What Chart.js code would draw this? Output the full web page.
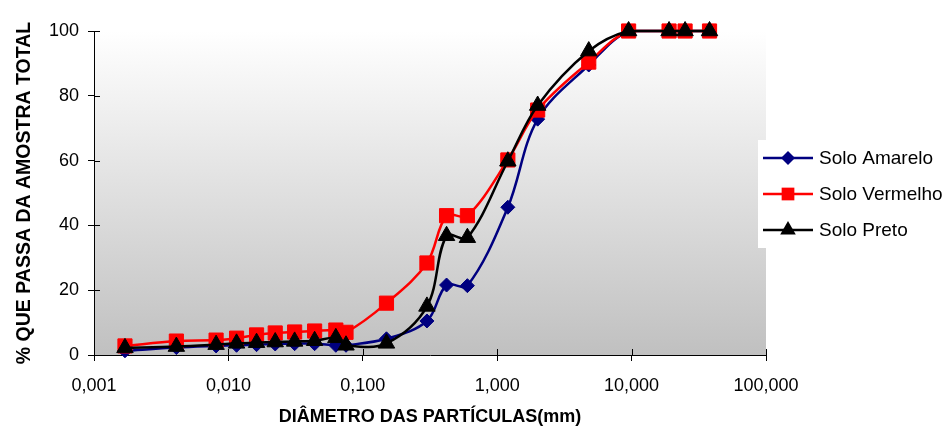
<!DOCTYPE html>
<html>
<head>
<meta charset="utf-8">
<script src="https://cdn.jsdelivr.net/npm/chart.js@4/dist/chart.umd.min.js"></script>
<style>
  body { margin: 0; background: #fff; }
  #box { width: 951px; height: 427px; }
</style>
</head>
<body>
<div id="box"><canvas id="curva"></canvas></div>
<script>
// diametros das particulas (mm)
const diametros = [0.0017, 0.0041, 0.0081, 0.0115, 0.0162, 0.0223, 0.0311, 0.0438, 0.063, 0.075,
                   0.15, 0.3, 0.42, 0.6, 1.2, 2.0, 4.8, 9.5, 19, 25, 38];

// % que passa
const soloAmarelo  = [1.3, 2.3, 2.8, 3.0, 3.2, 3.4, 3.5, 3.5, 3.0, 3.0,
                      5.0, 10.5, 21.6, 21.4, 45.6, 72.8, 89.5, 100, 100, 100, 100];
const soloVermelho = [2.8, 4.3, 4.6, 5.2, 6.2, 6.8, 7.1, 7.4, 7.7, 7.0,
                      16.0, 28.4, 43.0, 43.0, 60.2, 75.6, 90.4, 100, 100, 100, 100];
const soloPreto    = [2.2, 2.6, 3.2, 3.6, 3.8, 4.0, 4.2, 4.4, 5.3, 3.0,
                      3.6, 15.0, 36.8, 36.2, 59.8, 77.0, 93.8, 100, 100, 100, 100];

const xTicks = [0.001, 0.01, 0.1, 1, 10, 100];
const xTickLabels = ["0,001", "0,010", "0,100", "1,000", "10,000", "100,000"];

const FONT = "'Liberation Sans', Arial, sans-serif";

function pontos(vals) {
  return diametros.map(function (d, i) { return { x: d, y: vals[i] }; });
}

function serie(label, vals, cor, estilo, raio, ordem) {
  return {
    label: label,
    data: pontos(vals),
    borderColor: cor,
    backgroundColor: cor,
    borderWidth: 2.5,
    pointStyle: estilo,
    pointRadius: raio,
    pointHoverRadius: raio,
    pointBorderWidth: 1,
    tension: 0.35,
    clip: false,
    order: ordem
  };
}

// fundo em degrade da area de plotagem
const fundo = {
  id: "fundo",
  beforeDraw(chart) {
    const a = chart.chartArea, ctx = chart.ctx;
    const g = ctx.createLinearGradient(0, a.top, 0, a.bottom);
    g.addColorStop(0, "#ffffff");
    g.addColorStop(1, "#c0c0c0");
    ctx.save();
    ctx.fillStyle = g;
    ctx.fillRect(a.left, a.top, a.right - a.left, a.bottom - a.top);
    ctx.restore();
  }
};

// marcas que cruzam os eixos (parte interna)
const marcas = {
  id: "marcas",
  beforeDatasetsDraw(chart) {
    const ctx = chart.ctx, a = chart.chartArea;
    const sx = chart.scales.x, sy = chart.scales.y;
    ctx.save();
    ctx.strokeStyle = "#000";
    ctx.lineWidth = 1;
    ctx.beginPath();
    sx.ticks.forEach(function (t) {
      const px = Math.round(sx.getPixelForValue(t.value)) + 0.5;
      ctx.moveTo(px, a.bottom);
      ctx.lineTo(px, a.bottom - 6);
    });
    sy.ticks.forEach(function (t) {
      const py = Math.round(sy.getPixelForValue(t.value)) + 0.5;
      ctx.moveTo(a.left, py);
      ctx.lineTo(a.left + 6, py);
    });
    ctx.stroke();
    ctx.restore();
  }
};

function marcador(ctx, estilo, x, y, r) {
  ctx.beginPath();
  if (estilo === "rectRot") {
    ctx.moveTo(x, y - r); ctx.lineTo(x + r, y); ctx.lineTo(x, y + r); ctx.lineTo(x - r, y);
  } else if (estilo === "rect") {
    const s = r * Math.SQRT1_2;
    ctx.rect(x - s, y - s, 2 * s, 2 * s);
  } else {
    ctx.moveTo(x, y - r);
    ctx.lineTo(x + r * Math.sin(Math.PI / 3), y + r / 2);
    ctx.lineTo(x - r * Math.sin(Math.PI / 3), y + r / 2);
  }
  ctx.closePath();
  ctx.fill();
}

// legenda desenhada a direita, sobre o fundo
const legenda = {
  id: "legenda",
  afterDraw(chart) {
    const ctx = chart.ctx;
    ctx.save();
    ctx.fillStyle = "#ffffff";
    ctx.fillRect(758, 140, 193, 108);
    const ordem = [0, 1, 2];
    ordem.forEach(function (i, k) {
      const ds = chart.data.datasets[i];
      const y = 158 + k * 36;
      ctx.strokeStyle = ds.borderColor;
      ctx.lineWidth = 2.5;
      ctx.beginPath();
      ctx.moveTo(763, y);
      ctx.lineTo(813, y);
      ctx.stroke();
      ctx.fillStyle = ds.backgroundColor;
      marcador(ctx, ds.pointStyle, 788, y, ds.pointStyle === "rect" ? 9 : (ds.pointStyle === "rectRot" ? 7 : 9));
      ctx.fillStyle = "#000";
      ctx.font = "19px " + FONT;
      ctx.textBaseline = "middle";
      ctx.textAlign = "left";
      ctx.fillText(ds.label, 819, y + 1);
    });
    ctx.restore();
  }
};

new Chart("curva", {
  type: "line",
  data: {
    datasets: [
      serie("Solo Amarelo", soloAmarelo, "#000080", "rectRot", 7, 3),
      serie("Solo Vermelho", soloVermelho, "#ff0000", "rect", 10, 2),
      serie("Solo Preto", soloPreto, "#000000", "triangle", 9.5, 1)
    ]
  },
  options: {
    responsive: true,
    maintainAspectRatio: false,
    animation: false,
    layout: { padding: { left: 0, right: 185, top: 31, bottom: 0 } },
    plugins: { legend: { display: false }, tooltip: { enabled: false } },
    scales: {
      x: {
        type: "logarithmic",
        min: 0.001,
        max: 100,
        afterBuildTicks: function (s) { s.ticks = xTicks.map(function (v) { return { value: v }; }); },
        afterFit: function (s) { s.height = 72; },
        ticks: {
          autoSkip: false,
          maxRotation: 0,
          padding: 14,
          color: "#000",
          font: { family: FONT, size: 18 },
          callback: function (v) { const i = xTicks.indexOf(v); return i >= 0 ? xTickLabels[i] : ""; }
        },
        grid: { display: true, drawOnChartArea: false, tickLength: 6, color: "#000" },
        border: { color: "#000", width: 1 },
        title: {
          display: true,
          text: "DIÂMETRO DAS PARTÍCULAS(mm)",
          color: "#000",
          font: { family: FONT, size: 18, weight: "bold", lineHeight: 1.1 },
          padding: { top: 0, bottom: 0 }
        }
      },
      y: {
        min: 0,
        max: 100,
        afterFit: function (s) { s.width = 94; },
        ticks: {
          stepSize: 20,
          padding: 9,
          color: "#000",
          font: { family: FONT, size: 18 }
        },
        grid: { display: true, drawOnChartArea: false, tickLength: 6, color: "#000" },
        border: { color: "#000", width: 1 },
        title: {
          display: true,
          text: "% QUE PASSA DA AMOSTRA TOTAL",
          color: "#000",
          font: { family: FONT, size: 19.5, weight: "bold" },
          padding: { top: 13, bottom: 0 }
        }
      }
    }
  },
  plugins: [fundo, marcas, legenda]
});
</script>
</body>
</html>
